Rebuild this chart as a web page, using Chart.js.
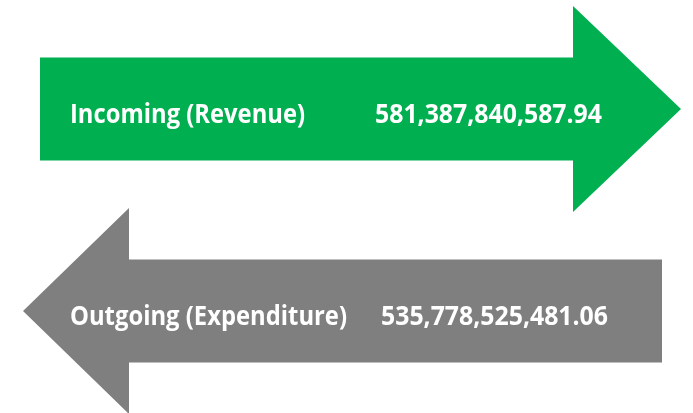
<!DOCTYPE html>
<html>
<head>
<meta charset="utf-8">
<script src="https://cdn.jsdelivr.net/npm/chart.js@4/dist/chart.umd.min.js"></script>
<style>
  html, body { margin: 0; padding: 0; background: #fff; }
  #wrap { width: 693px; height: 413px; }
</style>
</head>
<body>
<div id="wrap"><canvas id="flow" width="693" height="413"></canvas></div>
<script>
// data
const categories = ['Incoming (Revenue)', 'Outgoing (Expenditure)'];
const amounts = [581387840587.94, 535778525481.06];
const directions = ['right', 'left'];
const arrowColors = ['#00B050', '#7F7F7F'];

function fmt(v) {
    return v.toLocaleString('en-US', { minimumFractionDigits: 2, maximumFractionDigits: 2 });
}

// draws each bar as a block arrow, centred on the bar the y scale placed
const arrowPlugin = {
    id: 'arrows',
    afterDatasetsDraw(chart) {
        const ctx = chart.ctx;
        const meta = chart.getDatasetMeta(0);
        meta.data.forEach((bar, i) => {
            const cy = bar.y;
            const h = bar.height / 2;     // half body
            const hh = bar.height;        // half head
            const dir = directions[i];
            ctx.save();
            ctx.fillStyle = arrowColors[i];
            ctx.beginPath();
            if (dir === 'right') {
                const x0 = 40, base = 573, tip = 681;
                ctx.moveTo(x0, cy - h);
                ctx.lineTo(base, cy - h);
                ctx.lineTo(base, cy - hh);
                ctx.lineTo(tip, cy);
                ctx.lineTo(base, cy + hh);
                ctx.lineTo(base, cy + h);
                ctx.lineTo(x0, cy + h);
            } else {
                const x0 = 662, base = 129, tip = 23;
                ctx.moveTo(x0, cy - h);
                ctx.lineTo(base, cy - h);
                ctx.lineTo(base, cy - hh);
                ctx.lineTo(tip, cy);
                ctx.lineTo(base, cy + hh);
                ctx.lineTo(base, cy + h);
                ctx.lineTo(x0, cy + h);
            }
            ctx.closePath();
            ctx.fill();

            // texts
            ctx.fillStyle = '#ffffff';
            ctx.font = 'bold 26px "Open Sans", Lato, sans-serif';
            ctx.textBaseline = 'alphabetic';
            ctx.textAlign = 'left';
            const labelW = i === 0 ? 235 : 277;
            const valueX = i === 0 ? 375 : 381;
            ctx.fillText(categories[i], 70, cy + 14, labelW);
            ctx.fillText(fmt(amounts[i]), valueX, cy + 14, 227);
            ctx.restore();
        });
    }
};

new Chart(document.getElementById('flow'), {
    type: 'bar',
    data: {
        labels: categories,
        datasets: [{
            data: amounts,
            backgroundColor: 'rgba(0,0,0,0)',
            borderWidth: 0,
            categoryPercentage: 1,
            barPercentage: 0.51
        }]
    },
    options: {
        indexAxis: 'y',
        responsive: false,
        animation: false,
        layout: { padding: { top: 8, bottom: 1, left: 0, right: 0 } },
        scales: {
            x: { display: false, beginAtZero: true },
            y: { display: false }
        },
        plugins: {
            legend: { display: false },
            tooltip: { enabled: false }
        }
    },
    plugins: [arrowPlugin]
});
</script>
</body>
</html>
